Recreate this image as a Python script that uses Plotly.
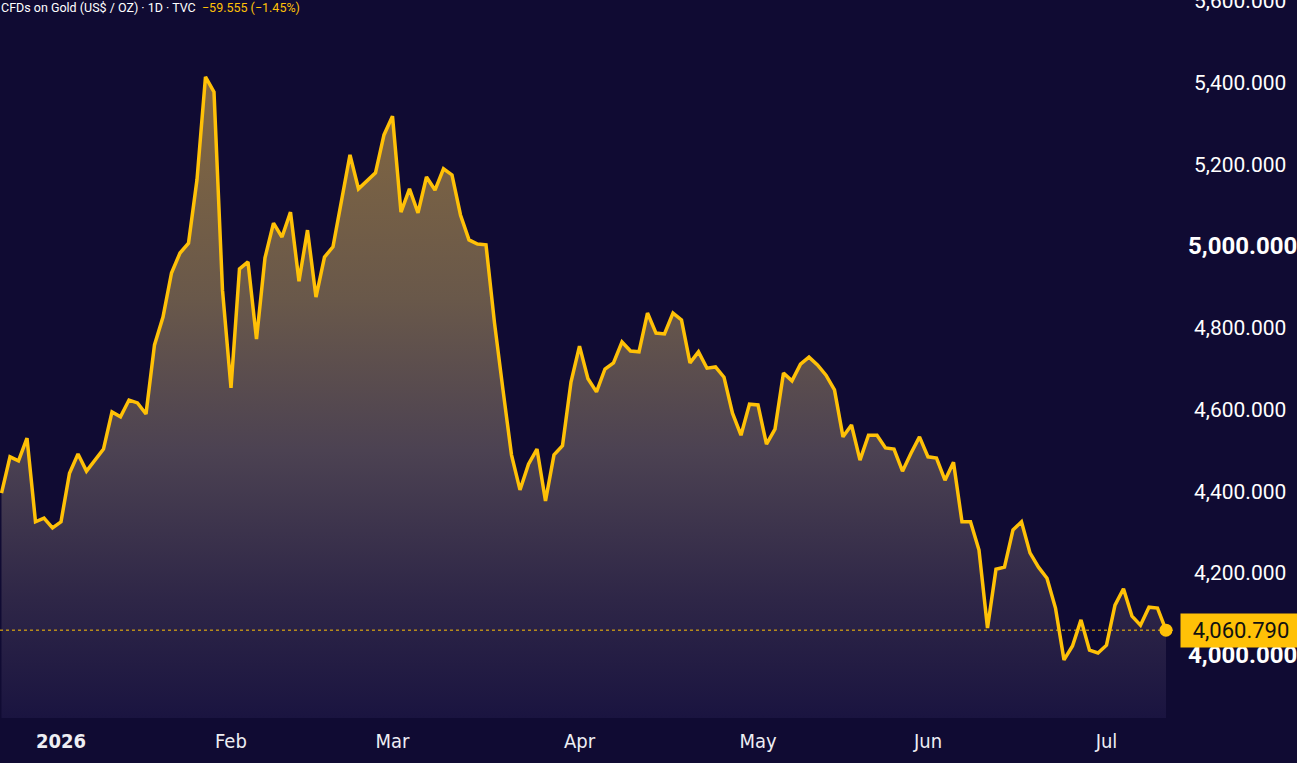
import plotly.graph_objects as go

# ---------------- data ----------------
prices = [4396, 4485, 4475, 4531, 4326, 4335, 4311, 4326, 4445, 4492,
          4450, 4477, 4504, 4595, 4583, 4624, 4617, 4590, 4759, 4827,
          4935, 4984, 5008, 5163, 5415, 5378, 4893, 4654, 4945, 4962,
          4773, 4972, 5057, 5023, 5084, 4915, 5040, 4876, 4974, 4999,
          5114, 5224, 5141, 5160, 5180, 5273, 5319, 5084, 5141, 5082,
          5170, 5138, 5190, 5175, 5077, 5016, 5006, 5004, 4813, 4649,
          4490, 4404, 4467, 4504, 4377, 4490, 4512, 4668, 4756, 4676,
          4644, 4700, 4715, 4766, 4744, 4742, 4837, 4788, 4786, 4837,
          4820, 4715, 4742, 4702, 4705, 4680, 4592, 4538, 4614, 4612,
          4516, 4553, 4690, 4671, 4712, 4729, 4710, 4685, 4649, 4534,
          4563, 4477, 4538, 4538, 4507, 4504, 4450, 4494, 4534, 4485,
          4482, 4428, 4472, 4326, 4326, 4257, 4066, 4210, 4215, 4306,
          4326, 4250, 4215, 4188, 4115, 3988, 4022, 4086, 4012, 4005,
          4024, 4122, 4162, 4095, 4073, 4117, 4115, 4060.79]
bar_index = list(range(len(prices)))

month_labels = ["<b>2026</b>", "Feb", "Mar", "Apr", "May", "Jun", "Jul"]
month_bar = [7, 27, 46, 68, 89, 109, 130]

price_ticks = [4000, 4200, 4400, 4600, 4800, 5000, 5200, 5400, 5600]
major_ticks = [4000, 5000]

title_text = "CFDs on Gold (US$ / OZ) · 1D · TVC"
change_text = "−59.555 (−1.45%)"

# ---------------- style ----------------
BG = "#100b33"
GOLD = "#FFC107"
LABEL_FONT = "Roboto, 'Open Sans', sans-serif"
X_FONT = "'Liberation Sans Narrow', 'DejaVu Sans Condensed', sans-serif"

fig = go.Figure()

fig.add_trace(go.Scatter(
    x=bar_index, y=prices, mode="lines",
    line=dict(color=GOLD, width=3.5),
    fill="tozeroy",
    fillgradient=dict(
        type="vertical", start=3846, stop=5415,
        colorscale=[[0.0, "#1a1440"], [0.184, "#2e2647"], [0.417, "#4c4252"],
                    [0.653, "#69584a"], [1.0, "#846840"]]),
    hoverinfo="skip", showlegend=False))

last = prices[-1]
fig.add_trace(go.Scatter(
    x=[bar_index[-1]], y=[last], mode="markers",
    marker=dict(size=13, color=GOLD), hoverinfo="skip", showlegend=False))

fig.add_shape(type="line", xref="paper", x0=0, x1=1, yref="y", y0=last, y1=last,
              line=dict(color=GOLD, width=1, dash="dot"))

annotations = []
for v in price_ticks:
    big = v in major_ticks
    annotations.append(dict(
        xref="paper", x=(1242 if big else 1240) / 1175, xanchor="center",
        yref="y", y=v, yanchor="middle",
        text=(f"<b>{v:,.3f}</b>" if big else f"{v:,.3f}"),
        showarrow=False,
        font=dict(family=LABEL_FONT, size=24 if big else 21, color="#ffffff")))

annotations.append(dict(
    xref="paper", x=1180 / 1175, xanchor="left",
    yref="y", y=last, yanchor="middle",
    text=f"{last:,.3f}", showarrow=False,
    bgcolor=GOLD, borderpad=4, width=112, align="center",
    font=dict(family=LABEL_FONT, size=22, color="#111111")))

annotations.append(dict(
    xref="paper", x=0, xanchor="left", yref="paper", y=1, yanchor="top",
    text=f"{title_text}  <span style='color:{GOLD}'>{change_text}</span>",
    showarrow=False, borderpad=0, yshift=1,
    font=dict(family=LABEL_FONT, size=12.5, color="#ffffff")))

fig.update_layout(
    width=1297, height=763, autosize=False,
    paper_bgcolor=BG, plot_bgcolor=BG,
    margin=dict(l=0, r=122, t=0, b=45),
    showlegend=False,
    annotations=annotations,
    xaxis=dict(range=[-0.176, 138.06], tickmode="array",
               tickvals=month_bar, ticktext=month_labels,
               showgrid=False, zeroline=False, showline=False, ticks="",
               ticklabelstandoff=9,
               tickfont=dict(family=X_FONT, size=20, color="#eeeef3")),
    yaxis=dict(range=[3845.8, 5603.2], showgrid=False, zeroline=False,
               showline=False, showticklabels=False, ticks=""),
)

fig.write_html("out.html")
